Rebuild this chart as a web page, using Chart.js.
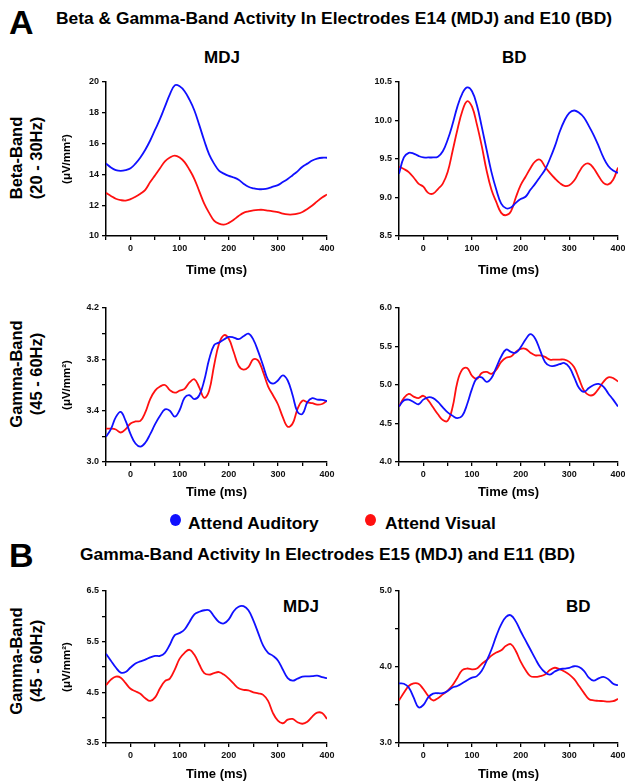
<!DOCTYPE html>
<html>
<head>
<meta charset="utf-8">
<script src="https://cdn.jsdelivr.net/npm/chart.js@4.4.1/dist/chart.umd.min.js"></script>
<style>
  body { margin: 0; width: 625px; height: 784px; position: relative; overflow: hidden; background: #fff;
         font-family: "Liberation Sans", Arial, sans-serif; font-weight: bold; color: #000; }
  .t { position: absolute; white-space: nowrap; line-height: 20px; height: 20px; }
  .big { font-family: "Liberation Sans Narrow", "Liberation Sans", Arial, sans-serif; font-size: 34px; line-height: 34px; height: 34px; }
  .rot { position: absolute; width: 160px; height: 40px; text-align: center; font-size: 16.5px; line-height: 20px; transform: rotate(-90deg); }
  .dot { position: absolute; width: 11px; height: 12px; border-radius: 50%; }
  canvas { position: absolute; }
</style>
</head>
<body>

<div class="t big" style="left:9px;top:5px;">A</div>
<div class="t" style="left:56px;top:8px;font-size:17.4px;">Beta &amp; Gamma-Band Activity In Electrodes E14 (MDJ) and E10 (BD)</div>
<div class="t" style="left:204px;top:48px;font-size:17px;">MDJ</div>
<div class="t" style="left:502px;top:48px;font-size:17px;">BD</div>

<div class="rot" style="left:-54px;top:138px;">Beta-Band<br>(20 - 30Hz)</div>
<div class="rot" style="left:-54px;top:354px;">Gamma-Band<br>(45 - 60Hz)</div>

<div class="dot" style="left:170px;top:514px;background:#1010ff;"></div>
<div class="t" style="left:188px;top:513px;font-size:17.4px;">Attend Auditory</div>
<div class="dot" style="left:365px;top:514px;background:#ff1010;"></div>
<div class="t" style="left:385px;top:513px;font-size:17.4px;">Attend Visual</div>

<div class="t big" style="left:9px;top:538px;">B</div>
<div class="t" style="left:80px;top:544px;font-size:17.4px;">Gamma-Band Activity In Electrodes E15 (MDJ) and E11 (BD)</div>
<div class="rot" style="left:-54px;top:641px;">Gamma-Band<br>(45 - 60Hz)</div>
<div class="t" style="left:283px;top:597px;font-size:17px;">MDJ</div>
<div class="t" style="left:566px;top:597px;font-size:17px;">BD</div>

<canvas id="c1"></canvas>
<canvas id="c2"></canvas>
<canvas id="c3"></canvas>
<canvas id="c4"></canvas>
<canvas id="c5"></canvas>
<canvas id="c6"></canvas>

<script>
// time axis (ms), shared by all panels
const times = [-50, -40, -30, -20, -10, 0, 10, 20, 30, 40, 50, 60, 70, 80, 90, 100,
  110, 120, 130, 140, 150, 160, 170, 180, 190, 200, 210, 220, 230, 240, 250,
  260, 270, 280, 290, 300, 310, 320, 330, 340, 350, 360, 370, 380, 390, 400];

// A - Beta band, E14 (MDJ)
const betaMdjAud = [14.71, 14.45, 14.28, 14.23, 14.28, 14.4, 14.7, 15.1, 15.6, 16.2, 16.9, 17.6, 18.4, 19.2, 19.78, 19.72,
  19.4, 18.85, 18.15, 17.2, 16.2, 15.3, 14.7, 14.25, 14.05, 13.9, 13.8, 13.65, 13.4, 13.2, 13.1,
  13.04, 13.05, 13.1, 13.2, 13.3, 13.5, 13.7, 13.95, 14.2, 14.5, 14.7, 14.9, 15.02, 15.08, 15.08];
const betaMdjVis = [12.8, 12.6, 12.42, 12.33, 12.3, 12.39, 12.55, 12.75, 13.0, 13.5, 13.95, 14.4, 14.85, 15.1, 15.22, 15.1,
  14.8, 14.3, 13.7, 12.9, 12.1, 11.5, 11.0, 10.8, 10.74, 10.85, 11.05, 11.3, 11.5, 11.6, 11.67,
  11.7, 11.7, 11.65, 11.6, 11.55, 11.45, 11.4, 11.4, 11.45, 11.56, 11.75, 11.98, 12.25, 12.5, 12.69];

// A - Beta band, E10 (BD)
const betaBdAud = [9.31, 9.52, 9.58, 9.57, 9.54, 9.52, 9.52, 9.52, 9.53, 9.6, 9.75, 9.95, 10.18, 10.35, 10.43, 10.38,
  10.2, 9.92, 9.62, 9.33, 9.1, 8.92, 8.86, 8.87, 8.93, 8.98, 9.01, 9.1, 9.18, 9.27, 9.36,
  9.5, 9.66, 9.85, 10.0, 10.1, 10.13, 10.1, 10.04, 9.93, 9.81, 9.67, 9.52, 9.41, 9.35, 9.32];
const betaBdVis = [9.4, 9.37, 9.33, 9.26, 9.18, 9.14, 9.06, 9.05, 9.11, 9.18, 9.33, 9.6, 9.88, 10.12, 10.25, 10.18,
  9.95, 9.67, 9.35, 9.1, 8.94, 8.8, 8.77, 8.82, 9.0, 9.16, 9.27, 9.38, 9.47, 9.49, 9.4,
  9.32, 9.25, 9.19, 9.15, 9.16, 9.22, 9.33, 9.42, 9.44, 9.38, 9.28, 9.19, 9.17, 9.23, 9.39];

// A - Gamma band, E14 (MDJ)
const gammaMdjAud = [3.196, 3.256, 3.35, 3.39, 3.32, 3.217, 3.144, 3.12, 3.15, 3.217, 3.295, 3.36, 3.41, 3.40, 3.353, 3.405,
  3.5, 3.52, 3.49, 3.52, 3.635, 3.8, 3.91, 3.93, 3.954, 3.975, 3.97, 3.957, 3.98, 4.0, 3.954,
  3.86, 3.75, 3.64, 3.61, 3.635, 3.675, 3.635, 3.52, 3.39, 3.375, 3.465, 3.497, 3.486, 3.484, 3.473];
const gammaMdjVis = [3.26, 3.26, 3.253, 3.23, 3.256, 3.3, 3.316, 3.32, 3.386, 3.49, 3.556, 3.588, 3.6, 3.56, 3.54, 3.556,
  3.57, 3.62, 3.645, 3.58, 3.5, 3.556, 3.75, 3.92, 3.988, 3.96, 3.857, 3.75, 3.72, 3.74, 3.8,
  3.79, 3.7, 3.59, 3.52, 3.45, 3.35, 3.275, 3.3, 3.413, 3.478, 3.465, 3.458, 3.447, 3.452, 3.478];

// A - Gamma band, E10 (BD)
const gammaBdAud = [4.72, 4.8, 4.81, 4.78, 4.75, 4.81, 4.84, 4.83, 4.78, 4.71, 4.645, 4.6, 4.57, 4.6, 4.75, 4.95,
  5.09, 5.1, 5.04, 5.09, 5.23, 5.37, 5.46, 5.43, 5.42, 5.49, 5.59, 5.66, 5.6, 5.45, 5.3,
  5.25, 5.25, 5.27, 5.285, 5.23, 5.1, 4.96, 4.91, 4.96, 5.0, 5.015, 4.98, 4.89, 4.81, 4.72];
const gammaBdVis = [4.72, 4.83, 4.885, 4.85, 4.83, 4.86, 4.8, 4.71, 4.62, 4.545, 4.535, 4.71, 5.04, 5.2, 5.22, 5.12,
  5.08, 5.155, 5.17, 5.145, 5.2, 5.3, 5.355, 5.37, 5.43, 5.47, 5.47, 5.42, 5.385, 5.385, 5.365,
  5.33, 5.33, 5.33, 5.33, 5.3, 5.23, 5.08, 4.93, 4.87, 4.875, 4.95, 5.04, 5.1, 5.09, 5.045];

// B - Gamma band, E15 (MDJ)
const gammaE15Aud = [5.26, 5.125, 4.99, 4.89, 4.9, 4.99, 5.07, 5.11, 5.145, 5.19, 5.22, 5.22, 5.28, 5.44, 5.63, 5.67,
  5.74, 5.89, 6.04, 6.09, 6.12, 6.12, 6.0, 5.89, 5.86, 5.94, 6.1, 6.19, 6.2, 6.12, 5.92,
  5.67, 5.42, 5.28, 5.22, 5.13, 4.95, 4.78, 4.73, 4.77, 4.81, 4.815, 4.82, 4.83, 4.8, 4.78];
const gammaE15Vis = [4.64, 4.75, 4.81, 4.79, 4.68, 4.57, 4.52, 4.47, 4.385, 4.33, 4.4, 4.58, 4.72, 4.77, 4.95, 5.165,
  5.28, 5.34, 5.24, 5.05, 4.88, 4.85, 4.88, 4.9, 4.85, 4.77, 4.67, 4.58, 4.55, 4.54, 4.5,
  4.48, 4.45, 4.33, 4.09, 3.94, 3.89, 3.96, 3.975, 3.91, 3.88, 3.92, 4.02, 4.1, 4.09, 3.975];

// B - Gamma band, E11 (BD)
const gammaE11Aud = [3.785, 3.78, 3.73, 3.6, 3.47, 3.5, 3.6, 3.65, 3.655, 3.655, 3.685, 3.73, 3.75, 3.785, 3.825, 3.86,
  3.88, 3.95, 4.08, 4.23, 4.41, 4.56, 4.66, 4.68, 4.6, 4.47, 4.35, 4.23, 4.11, 4.0, 3.93,
  3.9, 3.94, 3.97, 3.98, 3.99, 4.01, 4.0, 3.95, 3.86, 3.82, 3.85, 3.87, 3.84, 3.78, 3.76];
const gammaE11Vis = [3.56, 3.66, 3.75, 3.785, 3.78, 3.71, 3.62, 3.56, 3.59, 3.64, 3.69, 3.76, 3.86, 3.96, 3.98, 3.97,
  3.98, 4.04, 4.09, 4.15, 4.19, 4.22, 4.28, 4.3, 4.21, 4.07, 3.96, 3.88, 3.87, 3.88, 3.9,
  3.96, 3.99, 3.97, 3.94, 3.9, 3.84, 3.75, 3.66, 3.58, 3.56, 3.555, 3.55, 3.545, 3.55, 3.58];

// which x ticks carry a label, and the y tick labels of each panel
const timeLabels = [0, 100, 200, 300, 400];
const yLabelsBetaMdj = [10, 12, 14, 16, 18, 20];
const yLabelsBetaBd = [8.5, 9.0, 9.5, 10.0, 10.5];
const yLabelsGammaMdj = [3.0, 3.4, 3.8, 4.2];
const yLabelsGammaBd = [4.0, 4.5, 5.0, 5.5, 6.0];
const yLabelsE15 = [3.5, 4.5, 5.5, 6.5];
const yLabelsE11 = [3.0, 4.0, 5.0];

const BLUE = "#1010ff";
const RED = "#ff1010";
const FONT = "'Liberation Sans', Arial, sans-serif";

function panel(id, box, aud, vis, yr) {
  const cv = document.getElementById(id);
  cv.width = box.w; cv.height = box.h;
  cv.style.left = box.x + "px"; cv.style.top = box.y + "px";
  cv.style.width = box.w + "px"; cv.style.height = box.h + "px";

  const line = (data, color) => ({
    data: data.map((v, i) => ({ x: times[i], y: v })),
    borderColor: color, borderWidth: 1.8, pointRadius: 0, tension: 0.4, fill: false
  });

  new Chart(cv, {
    type: "line",
    data: { datasets: [line(aud, BLUE), line(vis, RED)] },
    options: {
      responsive: false,
      animation: false,
      layout: { padding: { top: 10, right: box.padR, bottom: 0, left: 0 } },
      plugins: { legend: { display: false }, tooltip: { enabled: false } },
      scales: {
        x: {
          type: "linear", min: -50, max: 400,
          ticks: {
            stepSize: 50, autoSkip: false, maxRotation: 0, padding: 3, color: "#111",
            font: { family: FONT, size: 9, weight: "bold" },
            callback: v => (timeLabels.includes(v) ? String(v) : "")
          },
          grid: { drawOnChartArea: false, drawTicks: true, tickLength: 4, color: "#000", lineWidth: 1.3 },
          border: { display: true, color: "#000", width: 1.5 },
          title: { display: true, text: "Time (ms)", color: "#000",
                   font: { family: FONT, size: 13, weight: "bold" }, padding: { top: 0, bottom: 2 } },
          afterFit: s => { s.height = box.xH; s.paddingLeft = 0; s.paddingRight = 0; }
        },
        y: {
          min: yr.min, max: yr.max,
          ticks: {
            stepSize: yr.step, autoSkip: false, padding: 3, color: "#111",
            font: { family: FONT, size: 9, weight: "bold" },
            callback: v => {
              const hit = yr.labels.find(l => Math.abs(l - v) < 1e-6);
              return hit === undefined ? "" : hit.toFixed(yr.dec);
            }
          },
          grid: { drawOnChartArea: false, drawTicks: true, tickLength: 4, color: "#000", lineWidth: 1.3 },
          border: { display: true, color: "#000", width: 1.5 },
          title: { display: yr.title, text: "(\u03bcV/mm\u00b2)", color: "#000",
                   font: { family: FONT, size: 11.5, weight: "bold" }, padding: { top: 5, bottom: 0 } },
          afterFit: s => { s.width = box.yW; s.paddingTop = 0; s.paddingBottom = 0; }
        }
      }
    }
  });
}

// left column: plot x 106..327, right column: plot x 399..618
panel("c1", { x: 55, y: 72, w: 284, h: 208, yW: 51, padR: 12, xH: 44 }, betaMdjAud, betaMdjVis,
  { min: 10, max: 20, step: 2, labels: yLabelsBetaMdj, dec: 0, title: true });
panel("c2", { x: 360, y: 72, w: 265, h: 208, yW: 39, padR: 7, xH: 44 }, betaBdAud, betaBdVis,
  { min: 8.5, max: 10.5, step: 0.5, labels: yLabelsBetaBd, dec: 1, title: false });
panel("c3", { x: 55, y: 298, w: 284, h: 204, yW: 51, padR: 12, xH: 40 }, gammaMdjAud, gammaMdjVis,
  { min: 3.0, max: 4.2, step: 0.2, labels: yLabelsGammaMdj, dec: 1, title: true });
panel("c4", { x: 360, y: 298, w: 265, h: 204, yW: 39, padR: 7, xH: 40 }, gammaBdAud, gammaBdVis,
  { min: 4.0, max: 6.0, step: 0.5, labels: yLabelsGammaBd, dec: 1, title: false });
panel("c5", { x: 55, y: 581, w: 284, h: 203, yW: 51, padR: 12, xH: 41 }, gammaE15Aud, gammaE15Vis,
  { min: 3.5, max: 6.5, step: 0.5, labels: yLabelsE15, dec: 1, title: true });
panel("c6", { x: 360, y: 581, w: 265, h: 203, yW: 39, padR: 7, xH: 41 }, gammaE11Aud, gammaE11Vis,
  { min: 3.0, max: 5.0, step: 0.5, labels: yLabelsE11, dec: 1, title: false });
</script>
</body>
</html>
